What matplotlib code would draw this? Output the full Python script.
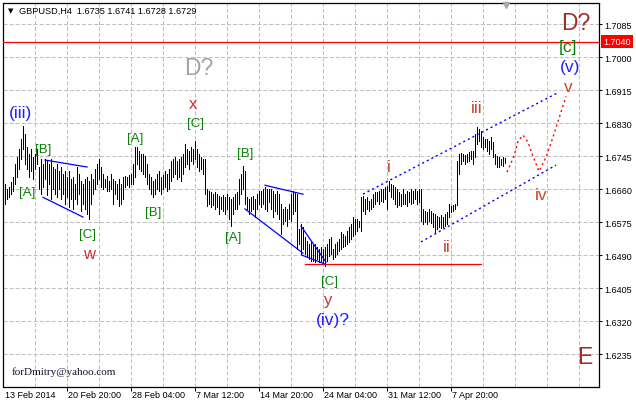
import matplotlib
matplotlib.use('Agg')
import matplotlib.pyplot as plt
from matplotlib.transforms import blended_transform_factory

plt.rcParams['lines.scale_dashes'] = False

# ---------------- data ----------------
highs = [
    1.6673, 1.6660, 1.6665, 1.6678, 1.6691, 1.6724, 1.6742, 1.6763, 1.6789, 1.6822,
    1.6802, 1.6768, 1.6750, 1.6763, 1.6742, 1.6750, 1.6763, 1.6717, 1.6737, 1.6724,
    1.6737, 1.6732, 1.6724, 1.6737, 1.6717, 1.6711, 1.6724, 1.6706, 1.6717, 1.6699,
    1.6706, 1.6691, 1.6706, 1.6686, 1.6691, 1.6673, 1.6717, 1.6699, 1.6681, 1.6673,
    1.6686, 1.6691, 1.6681, 1.6699, 1.6686, 1.6711, 1.6724, 1.6737, 1.6717, 1.6699,
    1.6686, 1.6693, 1.6681, 1.6699, 1.6686, 1.6681, 1.6673, 1.6686, 1.6673, 1.6691,
    1.6693, 1.6691, 1.6696, 1.6699, 1.6724, 1.6768, 1.6768, 1.6758, 1.6750, 1.6750,
    1.6745, 1.6724, 1.6699, 1.6691, 1.6681, 1.6686, 1.6699, 1.6706, 1.6691, 1.6696,
    1.6706, 1.6699, 1.6711, 1.6732, 1.6737, 1.6742, 1.6732, 1.6737, 1.6742, 1.6750,
    1.6776, 1.6763, 1.6758, 1.6768, 1.6763, 1.6784, 1.6763, 1.6750, 1.6742, 1.6737,
    1.6737, 1.6660, 1.6655, 1.6652, 1.6647, 1.6652, 1.6647, 1.6642, 1.6639, 1.6645,
    1.6639, 1.6647, 1.6639, 1.6634, 1.6639, 1.6647, 1.6652, 1.6686, 1.6699, 1.6719,
    1.6706, 1.6639, 1.6634, 1.6639, 1.6642, 1.6634, 1.6647, 1.6655, 1.6655, 1.6660,
    1.6665, 1.6660, 1.6660, 1.6660, 1.6655, 1.6647, 1.6655, 1.6647, 1.6621, 1.6609,
    1.6614, 1.6609, 1.6621, 1.6647, 1.6655, 1.6652, 1.6647, 1.6557, 1.6570, 1.6562,
    1.6537, 1.6526, 1.6519, 1.6524, 1.6516, 1.6519, 1.6511, 1.6506, 1.6511, 1.6506,
    1.6511, 1.6519, 1.6531, 1.6537, 1.6506, 1.6519, 1.6524, 1.6531, 1.6549, 1.6544,
    1.6539, 1.6552, 1.6562, 1.6570, 1.6588, 1.6583, 1.6583, 1.6578, 1.6639, 1.6642,
    1.6634, 1.6639, 1.6629, 1.6634, 1.6647, 1.6652, 1.6652, 1.6655, 1.6660, 1.6660,
    1.6665, 1.6668, 1.6681, 1.6673, 1.6670, 1.6665, 1.6660, 1.6652, 1.6647, 1.6660,
    1.6647, 1.6655, 1.6652, 1.6660, 1.6655, 1.6660, 1.6655, 1.6660, 1.6660, 1.6609,
    1.6603, 1.6601, 1.6609, 1.6603, 1.6598, 1.6596, 1.6591, 1.6588, 1.6593, 1.6588,
    1.6596, 1.6601, 1.6621, 1.6616, 1.6619, 1.6621, 1.6732, 1.6750, 1.6753, 1.6750,
    1.6748, 1.6750, 1.6755, 1.6758, 1.6758, 1.6802, 1.6820, 1.6814, 1.6809, 1.6794,
    1.6789, 1.6789, 1.6784, 1.6794, 1.6781, 1.6750, 1.6745, 1.6742, 1.6737, 1.6742,
    1.6741,
]
lows = [
    1.6621, 1.6634, 1.6639, 1.6647, 1.6655, 1.6673, 1.6691, 1.6711, 1.6737, 1.6763,
    1.6724, 1.6711, 1.6691, 1.6706, 1.6686, 1.6711, 1.6724, 1.6660, 1.6647, 1.6665,
    1.6686, 1.6645, 1.6673, 1.6634, 1.6660, 1.6647, 1.6639, 1.6660, 1.6634, 1.6647,
    1.6621, 1.6639, 1.6614, 1.6634, 1.6609, 1.6634, 1.6621, 1.6647, 1.6603, 1.6621,
    1.6609, 1.6596, 1.6583, 1.6621, 1.6647, 1.6660, 1.6673, 1.6686, 1.6665, 1.6660,
    1.6665, 1.6655, 1.6655, 1.6660, 1.6621, 1.6647, 1.6634, 1.6616, 1.6621, 1.6634,
    1.6665, 1.6670, 1.6665, 1.6673, 1.6673, 1.6691, 1.6724, 1.6711, 1.6706, 1.6699,
    1.6691, 1.6673, 1.6660, 1.6647, 1.6639, 1.6647, 1.6660, 1.6655, 1.6647, 1.6660,
    1.6665, 1.6655, 1.6660, 1.6681, 1.6691, 1.6699, 1.6686, 1.6691, 1.6681, 1.6699,
    1.6717, 1.6724, 1.6711, 1.6732, 1.6724, 1.6737, 1.6717, 1.6706, 1.6711, 1.6699,
    1.6647, 1.6616, 1.6621, 1.6614, 1.6619, 1.6609, 1.6614, 1.6596, 1.6609, 1.6603,
    1.6596, 1.6609, 1.6583, 1.6565, 1.6596, 1.6609, 1.6609, 1.6621, 1.6647, 1.6660,
    1.6621, 1.6609, 1.6596, 1.6603, 1.6609, 1.6588, 1.6609, 1.6621, 1.6614, 1.6621,
    1.6609, 1.6603, 1.6627, 1.6609, 1.6588, 1.6603, 1.6596, 1.6583, 1.6544, 1.6570,
    1.6578, 1.6565, 1.6583, 1.6578, 1.6596, 1.6603, 1.6506, 1.6519, 1.6493, 1.6506,
    1.6493, 1.6485, 1.6480, 1.6475, 1.6475, 1.6472, 1.6480, 1.6472, 1.6475, 1.6470,
    1.6462, 1.6475, 1.6488, 1.6493, 1.6480, 1.6485, 1.6493, 1.6500, 1.6506, 1.6511,
    1.6513, 1.6519, 1.6524, 1.6531, 1.6539, 1.6544, 1.6552, 1.6562, 1.6552, 1.6603,
    1.6596, 1.6609, 1.6603, 1.6609, 1.6614, 1.6621, 1.6629, 1.6621, 1.6629, 1.6627,
    1.6634, 1.6609, 1.6655, 1.6639, 1.6634, 1.6621, 1.6614, 1.6619, 1.6616, 1.6621,
    1.6621, 1.6616, 1.6627, 1.6621, 1.6624, 1.6634, 1.6621, 1.6627, 1.6578, 1.6570,
    1.6575, 1.6570, 1.6578, 1.6573, 1.6562, 1.6549, 1.6557, 1.6562, 1.6560, 1.6562,
    1.6565, 1.6570, 1.6588, 1.6601, 1.6603, 1.6609, 1.6619, 1.6699, 1.6724, 1.6732,
    1.6724, 1.6729, 1.6732, 1.6737, 1.6724, 1.6742, 1.6776, 1.6784, 1.6768, 1.6763,
    1.6768, 1.6758, 1.6750, 1.6763, 1.6742, 1.6724, 1.6717, 1.6717, 1.6722, 1.6719,
    1.6728,
]

price_ticks = [1.6235, 1.6320, 1.6405, 1.6490, 1.6575, 1.6660, 1.6745,
               1.6830, 1.6915, 1.7000, 1.7085]
date_labels = ['13 Feb 2014', '20 Feb 20:00', '28 Feb 04:00', '7 Mar 12:00',
               '14 Mar 20:00', '24 Mar 04:00', '31 Mar 12:00', '7 Apr 20:00']
date_bars = [-0.75, 31, 63, 95, 127, 159, 191, 223]

title_text = 'GBPUSD,H4  1.6735 1.6741 1.6728 1.6729'
level_price = 1.7040
support_price = 1.6467
support_bars = [150, 238]

# channel / wedge lines (bar index, price)
chan_up_x, chan_up_y = [179, 277], [1.6647, 1.6910]
chan_lo_x, chan_lo_y = [208, 275.5], [1.6524, 1.6722]
wedges = [
    ([20, 41], [1.6735, 1.6717]),
    ([19, 39], [1.6639, 1.6588]),
    ([130, 149], [1.6670, 1.6647]),
    ([120, 149], [1.6609, 1.6495]),
    ([148, 160.5], [1.6565, 1.6472]),
    ([148.5, 160], [1.6490, 1.6467]),
]
proj_x = [251.0, 254.5, 256.5, 259.0, 261.5, 264.0, 267.0, 270.5, 274.0, 280.5]
proj_y = [1.6704, 1.6745, 1.6784, 1.6799, 1.6781, 1.6745, 1.6706, 1.6742, 1.6794, 1.6899]

BLUE = '#1f1fff'
GREEN = '#0a800a'
WAVE = '#c8462d'
RED2 = '#c83030'
BROWN = '#a52a2a'
GRAY = '#a4a4a4'

labels = [
    ('(iii)', 8, 1.6858, BLUE, 12.5),
    ('D?', 97, 1.6974, GRAY, 16.5),
    ('x', 94, 1.6881, RED2, 12),
    ('[C]', 95.5, 1.6830, GREEN, 9.5),
    ('[A]', 65, 1.6791, GREEN, 9.5),
    ('[B]', 19, 1.6763, GREEN, 9.5),
    ('[A]', 11, 1.6652, GREEN, 9.5),
    ('[C]', 41, 1.6544, GREEN, 9.5),
    ('w', 42, 1.6495, RED2, 12),
    ('[B]', 74, 1.6601, GREEN, 9.5),
    ('[B]', 120, 1.6753, GREEN, 9.5),
    ('[A]', 114, 1.6537, GREEN, 9.5),
    ('[C]', 162, 1.6423, GREEN, 9.5),
    ('y', 161.5, 1.6377, RED2, 12),
    ('(iv)?', 164, 1.6325, BLUE, 12.5),
    ('E', 290, 1.6230, BROWN, 16.5),
    ('D?', 285.5, 1.7090, BROWN, 16.5),
    ('[c]', 281.5, 1.7028, GREEN, 12.5),
    ('(v)', 282.5, 1.6976, BLUE, 12.5),
    ('v', 281.5, 1.6925, WAVE, 12.5),
    ('iii', 236, 1.6871, WAVE, 12.5),
    ('i', 192, 1.6719, WAVE, 12.5),
    ('ii', 221, 1.6511, WAVE, 12.5),
    ('iv', 268, 1.6647, WAVE, 12.5),
]

# ---------------- figure ----------------
W, H = 636, 406
L, R, T, B = 3.5, 598.5, 3.5, 387.5
fig = plt.figure(figsize=(W / 100, H / 100), dpi=100)
ax = fig.add_axes([L / W, 1 - B / H, (R - L) / W, (B - T) / H])
ax.set_xlim(-0.75, 296.75)
ax.set_ylim(1.61516, 1.71408)
SANS = ['Liberation Sans', 'DejaVu Sans']

# grid
for gx in range(15, 297, 16):
    ax.axvline(gx, color='#c0c0c0', lw=0.75, dashes=(2.9, 1.45), zorder=0)
for p in price_ticks:
    ax.axhline(p, color='#c0c0c0', lw=0.75, dashes=(2.9, 1.45), zorder=0)

# bars
idx = list(range(len(highs)))
ax.vlines(idx, lows, highs, colors='black', linewidth=0.72, zorder=3,
          antialiased=False)

# lines
ax.axhline(level_price, color='#ff0000', lw=0.9, zorder=4)
ax.plot(support_bars, [support_price, support_price], color='#ff0000', lw=0.9, zorder=4)
for xs, ys in wedges:
    ax.plot(xs, ys, color='#0000ff', lw=0.9, zorder=4)
ax.plot(chan_up_x, chan_up_y, color='#0000ff', lw=1.0, dashes=(1.5, 2.2), zorder=4)
ax.plot(chan_lo_x, chan_lo_y, color='#0000ff', lw=1.0, dashes=(1.5, 2.2), zorder=4)
ax.plot(proj_x, proj_y, color='#ff0000', lw=1.0, dashes=(1.5, 2.2), zorder=4)

for t, x, y, c, s in labels:
    ax.text(x, y, t, color=c, fontsize=s, ha='center', va='center',
            family=SANS, zorder=6)

# spines
for sp in ax.spines.values():
    sp.set_color('black')
    sp.set_linewidth(0.9)

# y ticks on right
ax.yaxis.tick_right()
ax.set_yticks(price_ticks)
ax.set_yticklabels(['%.4f' % p for p in price_ticks], fontsize=6.5, family=SANS)
ax.tick_params(axis='y', length=2.5, width=0.75, pad=1.5, colors='black')

# x ticks
ax.set_xticks(date_bars[1:])
ax.set_xticklabels([])
ax.tick_params(axis='x', length=3, width=0.75, direction='out')
for lab, bx in zip(date_labels, date_bars):
    ax.annotate(lab, xy=(bx, 0), xycoords=('data', 'axes fraction'),
                xytext=(1.5, -4), textcoords='offset pixels',
                ha='left', va='top', fontsize=6.5, family=SANS)

# price label box
tr = blended_transform_factory(ax.transAxes, ax.transData)
ax.text(1.008, level_price, '1.7040', transform=tr, ha='left', va='center',
        color='white', fontsize=6.5, family=SANS, clip_on=False,
        bbox=dict(boxstyle='square,pad=0.22', fc='#ff0000', ec='none'))

# shift marker
tr2 = blended_transform_factory(ax.transData, ax.transAxes)
ax.plot([250.25], [0.993], marker='v', color='#a8a8a8', markersize=5,
        transform=tr2, clip_on=False, zorder=7)

# title
fig.text(8 / W, 1 - 11 / H, '\u25bc', fontsize=5, va='center', ha='left',
         family='DejaVu Sans')
fig.text(19 / W, 1 - 11 / H, title_text, fontsize=6.6, va='center', ha='left',
         family=SANS)

# watermark
fig.text(12 / W, 1 - 372 / H, 'forDmitry@yahoo.com', fontsize=8,
         va='center', ha='left', family=['Liberation Serif', 'DejaVu Serif'],
         color='#141430')

fig.savefig('out.png', dpi=100)
